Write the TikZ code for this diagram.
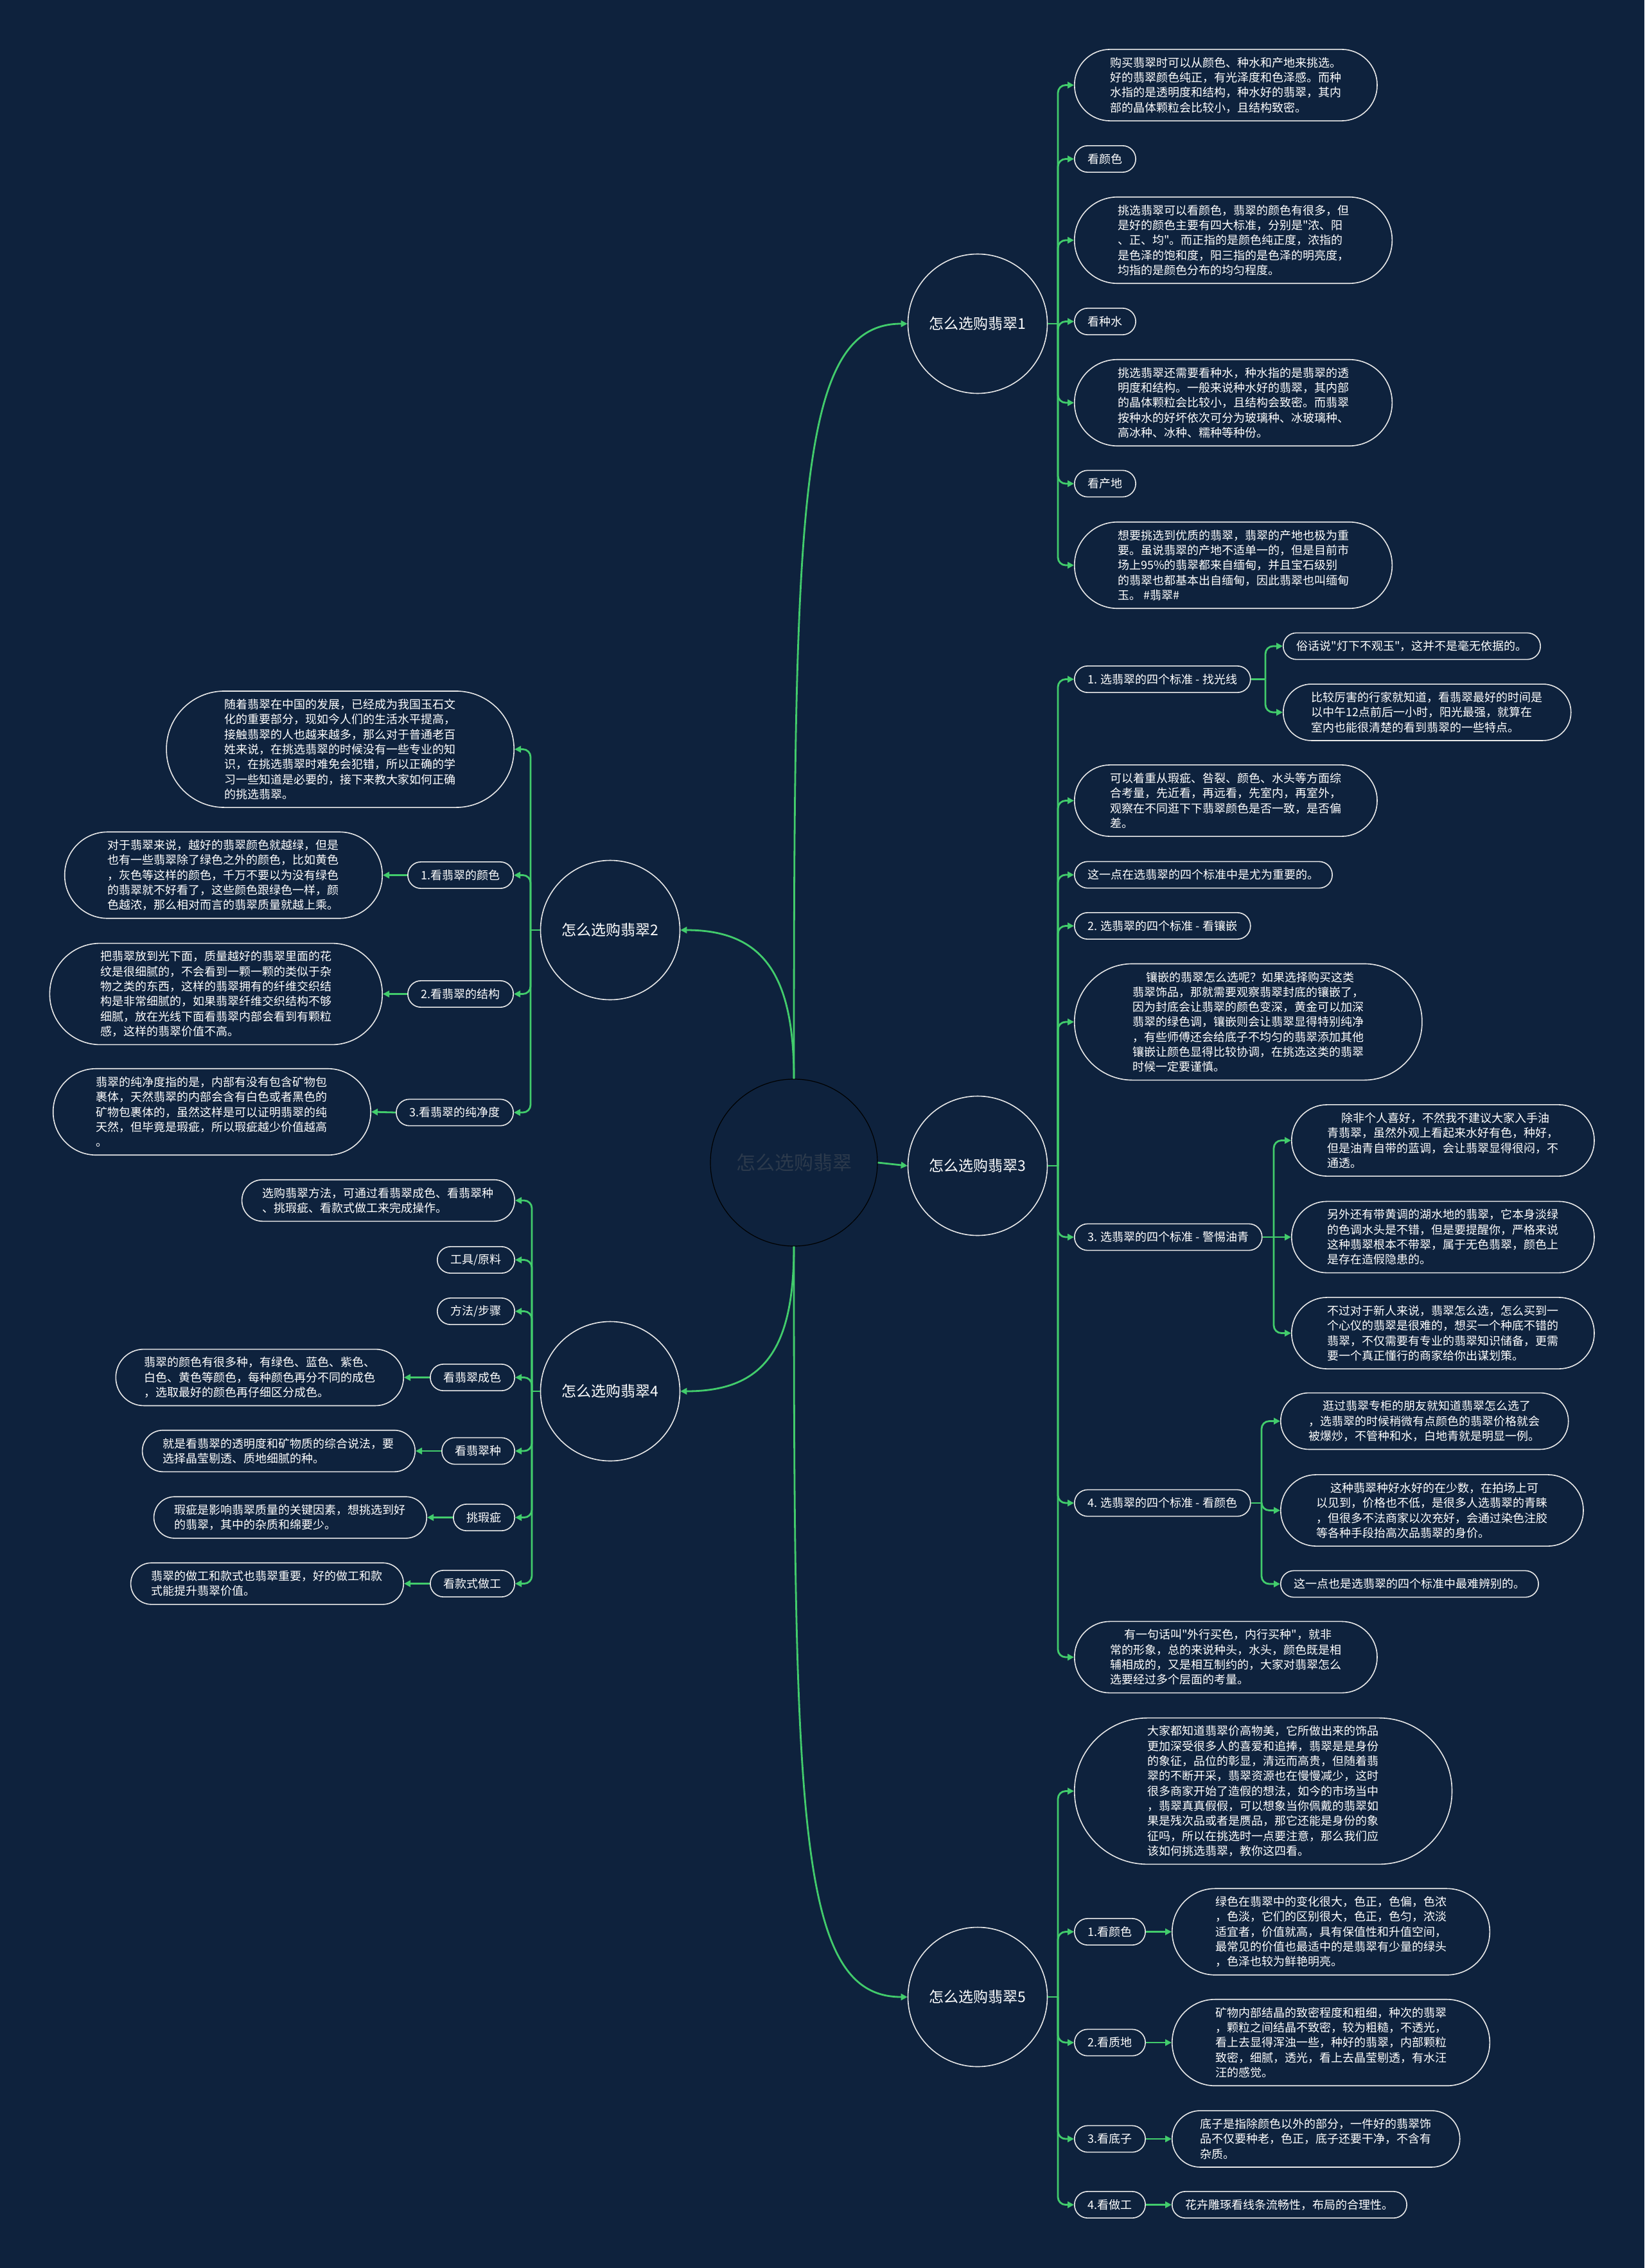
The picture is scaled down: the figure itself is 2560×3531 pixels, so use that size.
\documentclass[tikz,border=0pt]{standalone}
\usepackage{fontspec}
\usetikzlibrary{arrows.meta}
\newfontfamily\cjk{Noto Sans CJK SC}
\definecolor{MapNavy}{RGB}{14,34,61}
\definecolor{MapGreen}{RGB}{66,204,108}
\definecolor{MapLine}{RGB}{232,232,232}
\definecolor{MapCore}{RGB}{44,58,76}
\newcommand\leadgap{\hspace*{1.2em}}
\tikzset{
  leaf/.style={rectangle, draw=MapLine, line width=0.8pt, fill=MapNavy,
    text=white, font=\cjk\fontsize{9pt}{11.65pt}\selectfont, align=left,
    inner ysep=0pt, minimum height={11.65pt*#1+9pt},
    inner xsep={5.825pt*#1+4.5pt}, rounded corners={5.8pt*#1+4.45pt}},
  leaf/.default=1,
  hub/.style={circle, draw=MapLine, line width=0.8pt, fill=MapNavy, text=white,
    font=\cjk\fontsize{11.5pt}{14pt}\selectfont, minimum size=108.5pt, inner sep=0pt},
  core/.style={circle, draw=black, line width=0.6pt, fill=MapNavy, text=MapCore,
    font=\cjk\fontsize{15pt}{18pt}\selectfont, minimum size=130pt, inner sep=0pt},
  stem/.style={draw=MapGreen, line width=1.4pt},
  link/.style={stem, -{Triangle[length=5pt,width=5pt]}},
  fork/.style={link, rounded corners=6pt}
}
\begin{document}
\begin{tikzpicture}[x=0.5pt,y=-0.5pt]
\fill[MapNavy] (0,0) rectangle (2560,3531);
\useasboundingbox (0,0) rectangle (2560,3531);

\node[core] (root) at (1236,1810) {怎么选购翡翠};
\node[hub] (h1) at (1522,504) {怎么选购翡翠1};
\node[hub] (h2) at (950,1448) {怎么选购翡翠2};
\node[hub] (h3) at (1522,1815) {怎么选购翡翠3};
\node[hub] (h4) at (950,2166) {怎么选购翡翠4};
\node[hub] (h5) at (1522,3109) {怎么选购翡翠5};

\draw[link] (root.north) .. controls +(0,-900) and +(-170,0) .. (h1.west);
\draw[link] (root.north) .. controls +(0,-160) and +(130,0) .. (h2.east);
\draw[link] (root.east) -- (h3.west);
\draw[link] (root.south) .. controls +(0,160) and +(130,0) .. (h4.east);
\draw[link] (root.south) .. controls +(0,900) and +(-170,0) .. (h5.west);

% branch 1
\node[leaf=4,anchor=west] (h1Intro) at (1672,132.5) {购买翡翠时可以从颜色、种水和产地来挑选。\\好的翡翠颜色纯正，有光泽度和色泽感。而种\\水指的是透明度和结构，种水好的翡翠，其内\\部的晶体颗粒会比较小，且结构致密。};
\node[leaf,anchor=west] (h1Color) at (1672,247.5) {看颜色};
\node[leaf=5,anchor=west] (h1ColorNote) at (1672,374) {挑选翡翠可以看颜色，翡翠的颜色有很多，但\\是好的颜色主要有四大标准，分别是"浓、阳\\、正、均"。而正指的是颜色纯正度，浓指的\\是色泽的饱和度，阳三指的是色泽的明亮度，\\均指的是颜色分布的均匀程度。};
\node[leaf,anchor=west] (h1Water) at (1672,500.5) {看种水};
\node[leaf=5,anchor=west] (h1WaterNote) at (1672,627) {挑选翡翠还需要看种水，种水指的是翡翠的透\\明度和结构。一般来说种水好的翡翠，其内部\\的晶体颗粒会比较小，且结构会致密。而翡翠\\按种水的好坏依次可分为玻璃种、冰玻璃种、\\高冰种、冰种、糯种等种份。};
\node[leaf,anchor=west] (h1Origin) at (1672,753) {看产地};
\node[leaf=5,anchor=west] (h1OriginNote) at (1672,880) {想要挑选到优质的翡翠，翡翠的产地也极为重\\要。虽说翡翠的产地不适单一的，但是目前市\\场上95\%的翡翠都来自缅甸，并且宝石级别\\的翡翠也都基本出自缅甸，因此翡翠也叫缅甸\\玉。 \#翡翠\#};

\coordinate (t1) at (1647,504);
\draw[stem] (h1.east) -- (t1);
\draw[fork] (t1) |- (h1Intro.west);
\draw[fork] (t1) |- (h1Color.west);
\draw[fork] (t1) |- (h1ColorNote.west);
\draw[fork] (t1) |- (h1Water.west);
\draw[fork] (t1) |- (h1WaterNote.west);
\draw[fork] (t1) |- (h1Origin.west);
\draw[fork] (t1) |- (h1OriginNote.west);

% branch 2
\node[leaf=7,anchor=east] (h2Intro) at (801,1166.5) {随着翡翠在中国的发展，已经成为我国玉石文\\化的重要部分，现如今人们的生活水平提高，\\接触翡翠的人也越来越多，那么对于普通老百\\姓来说，在挑选翡翠的时候没有一些专业的知\\识，在挑选翡翠时难免会犯错，所以正确的学\\习一些知道是必要的，接下来教大家如何正确\\的挑选翡翠。};
\node[leaf,anchor=east] (h2Color) at (800,1362.5) {1.看翡翠的颜色};
\node[leaf=5,anchor=east] (h2ColorNote) at (596,1362.5) {对于翡翠来说，越好的翡翠颜色就越绿，但是\\也有一些翡翠除了绿色之外的颜色，比如黄色\\，灰色等这样的颜色，千万不要以为没有绿色\\的翡翠就不好看了，这些颜色跟绿色一样，颜\\色越浓，那么相对而言的翡翠质量就越上乘。};
\node[leaf,anchor=east] (h2Struct) at (800,1547.5) {2.看翡翠的结构};
\node[leaf=6,anchor=east] (h2StructNote) at (596,1547.5) {把翡翠放到光下面，质量越好的翡翠里面的花\\纹是很细腻的，不会看到一颗一颗的类似于杂\\物之类的东西，这样的翡翠拥有的纤维交织结\\构是非常细腻的，如果翡翠纤维交织结构不够\\细腻，放在光线下面看翡翠内部会看到有颗粒\\感，这样的翡翠价值不高。};
\node[leaf,anchor=east] (h2Pure) at (800,1732) {3.看翡翠的纯净度};
\node[leaf=5,anchor=east] (h2PureNote) at (578,1731) {翡翠的纯净度指的是，内部有没有包含矿物包\\裹体，天然翡翠的内部会含有白色或者黑色的\\矿物包裹体的，虽然这样是可以证明翡翠的纯\\天然，但毕竟是瑕疵，所以瑕疵越少价值越高\\。};

\coordinate (t2) at (826,1448);
\draw[stem] (h2.west) -- (t2);
\draw[fork] (t2) |- (h2Intro.east);
\draw[fork] (t2) |- (h2Color.east);
\draw[fork] (t2) |- (h2Struct.east);
\draw[fork] (t2) |- (h2Pure.east);
\draw[link] (h2Color.west) -- (h2ColorNote.east);
\draw[link] (h2Struct.west) -- (h2StructNote.east);
\draw[link] (h2Pure.west) -- (h2PureNote.east);

% branch 3
\node[leaf,anchor=west] (h3Light) at (1672,1057.5) {1. 选翡翠的四个标准 - 找光线};
\node[leaf,anchor=west] (h3LightA) at (1997,1006) {俗话说"灯下不观玉"，这并不是毫无依据的。};
\node[leaf=3,anchor=west] (h3LightB) at (1997,1109) {比较厉害的行家就知道，看翡翠最好的时间是\\以中午12点前后一小时，阳光最强，就算在\\室内也能很清楚的看到翡翠的一些特点。};
\node[leaf=4,anchor=west] (h3Flaw) at (1672,1246.5) {可以着重从瑕疵、咎裂、颜色、水头等方面综\\合考量，先近看，再远看，先室内，再室外，\\观察在不同逛下下翡翠颜色是否一致，是否偏\\差。};
\node[leaf,anchor=west] (h3Key) at (1672,1362) {这一点在选翡翠的四个标准中是尤为重要的。};
\node[leaf,anchor=west] (h3Inlay) at (1672,1441.5) {2. 选翡翠的四个标准 - 看镶嵌};
\node[leaf=7,anchor=west] (h3InlayNote) at (1672,1591) {\leadgap 镶嵌的翡翠怎么选呢？如果选择购买这类\\翡翠饰品，那就需要观察翡翠封底的镶嵌了，\\因为封底会让翡翠的颜色变深，黄金可以加深\\翡翠的绿色调，镶嵌则会让翡翠显得特别纯净\\，有些师傅还会给底子不均匀的翡翠添加其他\\镶嵌让颜色显得比较协调，在挑选这类的翡翠\\时候一定要谨慎。};
\node[leaf,anchor=west] (h3Oil) at (1672,1926) {3. 选翡翠的四个标准 - 警惕油青};
\node[leaf=4,anchor=west] (h3OilA) at (2010,1775.5) {\leadgap 除非个人喜好，不然我不建议大家入手油\\青翡翠，虽然外观上看起来水好有色，种好，\\但是油青自带的蓝调，会让翡翠显得很闷，不\\通透。};
\node[leaf=4,anchor=west] (h3OilB) at (2010,1926) {另外还有带黄调的湖水地的翡翠，它本身淡绿\\的色调水头是不错，但是要提醒你，严格来说\\这种翡翠根本不带翠，属于无色翡翠，颜色上\\是存在造假隐患的。};
\node[leaf=4,anchor=west] (h3OilC) at (2010,2075.5) {不过对于新人来说，翡翠怎么选，怎么买到一\\个心仪的翡翠是很难的，想买一个种底不错的\\翡翠，不仅需要有专业的翡翠知识储备，更需\\要一个真正懂行的商家给你出谋划策。};
\node[leaf,anchor=west] (h3Hue) at (1672,2340) {4. 选翡翠的四个标准 - 看颜色};
\node[leaf=3,anchor=west] (h3HueA) at (1993,2212.5) {\leadgap 逛过翡翠专柜的朋友就知道翡翠怎么选了\\，选翡翠的时候稍微有点颜色的翡翠价格就会\\被爆炒，不管种和水，白地青就是明显一例。};
\node[leaf=4,anchor=west] (h3HueB) at (1993,2351.5) {\leadgap 这种翡翠种好水好的在少数，在拍场上可\\以见到，价格也不低，是很多人选翡翠的青睐\\，但很多不法商家以次充好，会通过染色注胶\\等各种手段抬高次品翡翠的身价。};
\node[leaf,anchor=west] (h3HueC) at (1993,2466) {这一点也是选翡翠的四个标准中最难辨别的。};
\node[leaf=4,anchor=west] (h3Saying) at (1672,2580) {\leadgap 有一句话叫"外行买色，内行买种"，就非\\常的形象，总的来说种头，水头，颜色既是相\\辅相成的，又是相互制约的，大家对翡翠怎么\\选要经过多个层面的考量。};

\coordinate (t3) at (1647,1815);
\draw[stem] (h3.east) -- (t3);
\draw[fork] (t3) |- (h3Light.west);
\draw[fork] (t3) |- (h3Flaw.west);
\draw[fork] (t3) |- (h3Key.west);
\draw[fork] (t3) |- (h3Inlay.west);
\draw[fork] (t3) |- (h3InlayNote.west);
\draw[fork] (t3) |- (h3Oil.west);
\draw[fork] (t3) |- (h3Hue.west);
\draw[fork] (t3) |- (h3Saying.west);

\coordinate (t31) at (1970,1057.5);
\draw[stem] (h3Light.east) -- (t31);
\draw[fork] (t31) |- (h3LightA.west);
\draw[fork] (t31) |- (h3LightB.west);

\coordinate (t36) at (1983,1926);
\draw[stem] (h3Oil.east) -- (t36);
\draw[fork] (t36) |- (h3OilA.west);
\draw[link] (t36) -- (h3OilB.west);
\draw[fork] (t36) |- (h3OilC.west);

\coordinate (t37) at (1964,2340);
\draw[stem] (h3Hue.east) -- (t37);
\draw[fork] (t37) |- (h3HueA.west);
\draw[fork] (t37) |- (h3HueB.west);
\draw[fork] (t37) |- (h3HueC.west);

% branch 4
\node[leaf=2,anchor=east] (h4Intro) at (802,1869) {选购翡翠方法，可通过看翡翠成色、看翡翠种\\、挑瑕疵、看款式做工来完成操作。};
\node[leaf,anchor=east] (h4Tools) at (802,1961.5) {工具/原料};
\node[leaf,anchor=east] (h4Steps) at (802,2041.5) {方法/步骤};
\node[leaf,anchor=east] (h4Shade) at (802,2144.5) {看翡翠成色};
\node[leaf=3,anchor=east] (h4ShadeNote) at (629,2144.5) {翡翠的颜色有很多种，有绿色、蓝色、紫色、\\白色、黄色等颜色，每种颜色再分不同的成色\\，选取最好的颜色再仔细区分成色。};
\node[leaf,anchor=east] (h4Kind) at (802,2259) {看翡翠种};
\node[leaf=2,anchor=east] (h4KindNote) at (647,2259) {就是看翡翠的透明度和矿物质的综合说法，要\\选择晶莹剔透、质地细腻的种。};
\node[leaf,anchor=east] (h4Flaw) at (802,2362.5) {挑瑕疵};
\node[leaf=2,anchor=east] (h4FlawNote) at (665,2362.5) {瑕疵是影响翡翠质量的关键因素，想挑选到好\\的翡翠，其中的杂质和绵要少。};
\node[leaf,anchor=east] (h4Style) at (802,2465.5) {看款式做工};
\node[leaf=2,anchor=east] (h4StyleNote) at (629,2465.5) {翡翠的做工和款式也翡翠重要，好的做工和款\\式能提升翡翠价值。};

\coordinate (t4) at (828,2166);
\draw[stem] (h4.west) -- (t4);
\draw[fork] (t4) |- (h4Intro.east);
\draw[fork] (t4) |- (h4Tools.east);
\draw[fork] (t4) |- (h4Steps.east);
\draw[fork] (t4) |- (h4Shade.east);
\draw[fork] (t4) |- (h4Kind.east);
\draw[fork] (t4) |- (h4Flaw.east);
\draw[fork] (t4) |- (h4Style.east);
\draw[link] (h4Shade.west) -- (h4ShadeNote.east);
\draw[link] (h4Kind.west) -- (h4KindNote.east);
\draw[link] (h4Flaw.west) -- (h4FlawNote.east);
\draw[link] (h4Style.west) -- (h4StyleNote.east);

% branch 5
\node[leaf=9,anchor=west] (h5Intro) at (1672,2788.5) {大家都知道翡翠价高物美，它所做出来的饰品\\更加深受很多人的喜爱和追捧，翡翠是是身份\\的象征，品位的彰显，清远而高贵，但随着翡\\翠的不断开采，翡翠资源也在慢慢减少，这时\\很多商家开始了造假的想法，如今的市场当中\\，翡翠真真假假，可以想象当你佩戴的翡翠如\\果是残次品或者是赝品，那它还能是身份的象\\征吗，所以在挑选时一点要注意，那么我们应\\该如何挑选翡翠，教你这四看。};
\node[leaf,anchor=west] (h5Color) at (1672,3007.5) {1.看颜色};
\node[leaf=5,anchor=west] (h5ColorNote) at (1824,3007.5) {绿色在翡翠中的变化很大，色正，色偏，色浓\\，色淡，它们的区别很大，色正，色匀，浓淡\\适宜者，价值就高，具有保值性和升值空间，\\最常见的价值也最适中的是翡翠有少量的绿头\\，色泽也较为鲜艳明亮。};
\node[leaf,anchor=west] (h5Texture) at (1672,3180) {2.看质地};
\node[leaf=5,anchor=west] (h5TextureNote) at (1824,3180) {矿物内部结晶的致密程度和粗细，种次的翡翠\\，颗粒之间结晶不致密，较为粗糙，不透光，\\看上去显得浑浊一些，种好的翡翠，内部颗粒\\致密，细腻，透光，看上去晶莹剔透，有水汪\\汪的感觉。};
\node[leaf,anchor=west] (h5Base) at (1672,3330) {3.看底子};
\node[leaf=3,anchor=west] (h5BaseNote) at (1824,3330) {底子是指除颜色以外的部分，一件好的翡翠饰\\品不仅要种老，色正，底子还要干净，不含有\\杂质。};
\node[leaf,anchor=west] (h5Craft) at (1672,3432.5) {4.看做工};
\node[leaf,anchor=west] (h5CraftNote) at (1824,3432.5) {花卉雕琢看线条流畅性，布局的合理性。};

\coordinate (t5) at (1647,3109);
\draw[stem] (h5.east) -- (t5);
\draw[fork] (t5) |- (h5Intro.west);
\draw[fork] (t5) |- (h5Color.west);
\draw[fork] (t5) |- (h5Texture.west);
\draw[fork] (t5) |- (h5Base.west);
\draw[fork] (t5) |- (h5Craft.west);
\draw[link] (h5Color.east) -- (h5ColorNote.west);
\draw[link] (h5Texture.east) -- (h5TextureNote.west);
\draw[link] (h5Base.east) -- (h5BaseNote.west);
\draw[link] (h5Craft.east) -- (h5CraftNote.west);
\end{tikzpicture}
\end{document}
